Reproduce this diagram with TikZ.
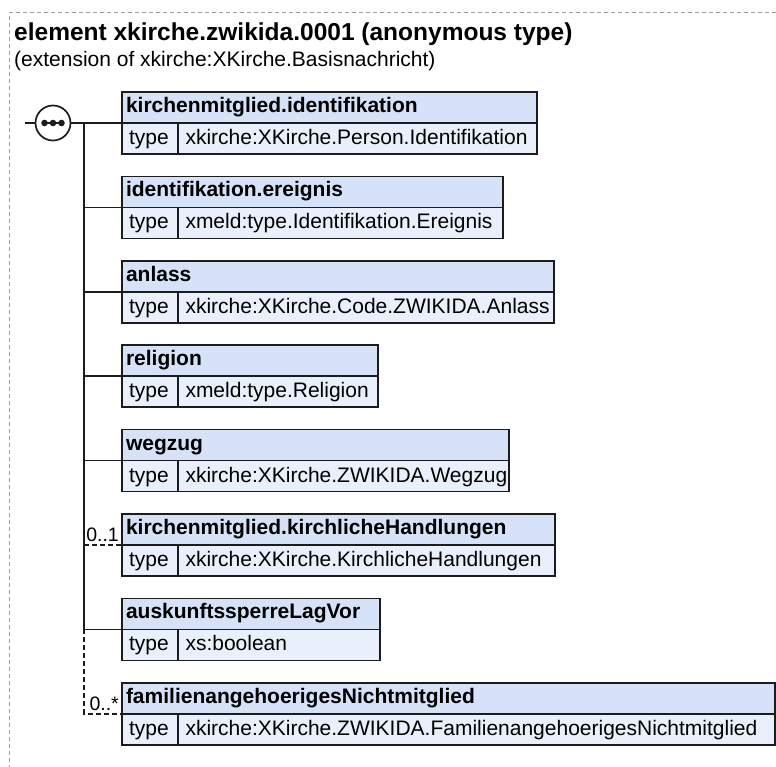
\documentclass[tikz,border=0pt]{standalone}
\usepackage{fontspec}
\setmainfont{Liberation Sans}
\usepackage{tikz}
\usetikzlibrary{positioning}
\definecolor{boxline}{HTML}{1c1c1c}
\definecolor{headfill}{HTML}{D5E2F7}
\definecolor{typefill}{HTML}{EAF0FB}
\definecolor{framegray}{HTML}{A0A0A0}
\newcommand\diagfont{\fontsize{21}{25}\selectfont}
\lefthyphenmin=64

\tikzset{
  elname/.style={draw=boxline, fill=headfill, line width=1.7pt, outer sep=0pt, anchor=north west,
    inner xsep=4pt, inner ysep=0pt, minimum height=31pt, text height=15pt, text depth=5pt,
    align=left, font=\diagfont\bfseries},
  eltag/.style={draw=boxline, fill=typefill, line width=1.7pt, outer sep=0pt, anchor=north west,
    inner xsep=7pt, inner ysep=0pt, minimum height=31pt, text height=16pt, text depth=4pt,
    text width=42pt, align=left, font=\diagfont},
  eltype/.style={eltag, inner xsep=7.5pt},
  wire/.style={draw=boxline, line width=1.7pt},
  optwire/.style={wire, dash pattern=on 5pt off 3pt},
  card/.style={anchor=south east, inner sep=3pt, font=\fontsize{19.5}{23}\selectfont}
}

\begin{document}
\begin{tikzpicture}[x=1pt, y=-1pt]
\useasboundingbox (0,0) rectangle (776,767);
% frame and heading
\draw[framegray, line width=1pt, dash pattern=on 4pt off 3pt] (776,13) -- (9,13) -- (9,767);
\node[anchor=base west, inner sep=0pt, font=\fontsize{24.5}{29}\selectfont\bfseries] (title) at (14,41) {element xkirche.zwikida.0001 (anonymous type)};
\node[anchor=base west, inner sep=0pt, font=\diagfont] (ext) at (14,66.7) {(extension of xkirche:XKirche.Basisnachricht)};

% child elements
\node[elname, text width=407pt] (kmid) at (122,92) {kirchenmitglied.identifikation};
\node[eltag] (kmidT) at (kmid.south west) {type};
\node[eltype, text width=344pt] (kmidV) at (kmidT.north east) {xkirche:XKirche.Person.Identifikation};

\node[elname, text width=373pt] (ereig) at (122,176.4) {identifikation.ereignis};
\node[eltag] (ereigT) at (ereig.south west) {type};
\node[eltype, text width=310pt] (ereigV) at (ereigT.north east) {xmeld:type.Identifikation.Ereignis};

\node[elname, text width=424pt] (anlass) at (122,260.8) {anlass};
\node[eltag] (anlassT) at (anlass.south west) {type};
\node[eltype, text width=361pt] (anlassV) at (anlassT.north east) {xkirche:XKirche.Code.ZWIKIDA.Anlass};

\node[elname, text width=248pt] (relig) at (122,345.2) {religion};
\node[eltag] (religT) at (relig.south west) {type};
\node[eltype, text width=185pt] (religV) at (religT.north east) {xmeld:type.Religion};

\node[elname, text width=379pt] (wegzug) at (122,429.6) {wegzug};
\node[eltag] (wegzugT) at (wegzug.south west) {type};
\node[eltype, text width=316pt] (wegzugV) at (wegzugT.north east) {xkirche:XKirche.ZWIKIDA.Wegzug};

\node[elname, text width=425pt] (khand) at (122,514) {kirchenmitglied.kirchlicheHandlungen};
\node[eltag] (khandT) at (khand.south west) {type};
\node[eltype, text width=362pt] (khandV) at (khandT.north east) {xkirche:XKirche.KirchlicheHandlungen};

\node[elname, text width=250pt] (ausk) at (122,598.4) {auskunftssperreLagVor};
\node[eltag] (auskT) at (ausk.south west) {type};
\node[eltype, text width=187pt] (auskV) at (auskT.north east) {xs:boolean};

\node[elname, text width=645pt] (famng) at (122,682.8) {familienangehoerigesNichtmitglied};
\node[eltag] (famngT) at (famng.south west) {type};
\node[eltype, text width=582pt] (famngV) at (famngT.north east) {xkirche:XKirche.ZWIKIDA.FamilienangehoerigesNichtmitglied};

% sequence compositor
\node[circle, draw=boxline, fill=white, line width=1.7pt, outer sep=0pt, minimum size=35pt, inner sep=0pt] (seq) at (53,123) {};
\coordinate (seqin) at (25,123);
\coordinate (bustop) at (84,123);
\draw[wire] (seqin) -- (seq);
\draw[wire] (seq) -- (kmid.south west);
\draw[wire] ([xshift=-8.5pt]seq.center) -- ([xshift=8.5pt]seq.center);
\fill[boxline] ([xshift=-8.5pt]seq.center) circle (3.3) (seq.center) circle (3.3) ([xshift=8.5pt]seq.center) circle (3.3);

% bus and branches
\draw[wire] (bustop) -- (bustop |- ausk.south west);
\draw[optwire] (bustop |- ausk.south west) -- (bustop |- famng.south west) -- (famng.south west);
\draw[wire] (bustop |- ereig.south west) -- (ereig.south west);
\draw[wire] (bustop |- anlass.south west) -- (anlass.south west);
\draw[wire] (bustop |- relig.south west) -- (relig.south west);
\draw[wire] (bustop |- wegzug.south west) -- (wegzug.south west);
\draw[optwire] (bustop |- khand.south west) -- (khand.south west);
\draw[wire] (bustop |- ausk.south west) -- (ausk.south west);
\node[card] (khandC) at (khand.south west) {0..1};
\node[card] (famngC) at (famng.south west) {0..*};
\end{tikzpicture}
\end{document}
